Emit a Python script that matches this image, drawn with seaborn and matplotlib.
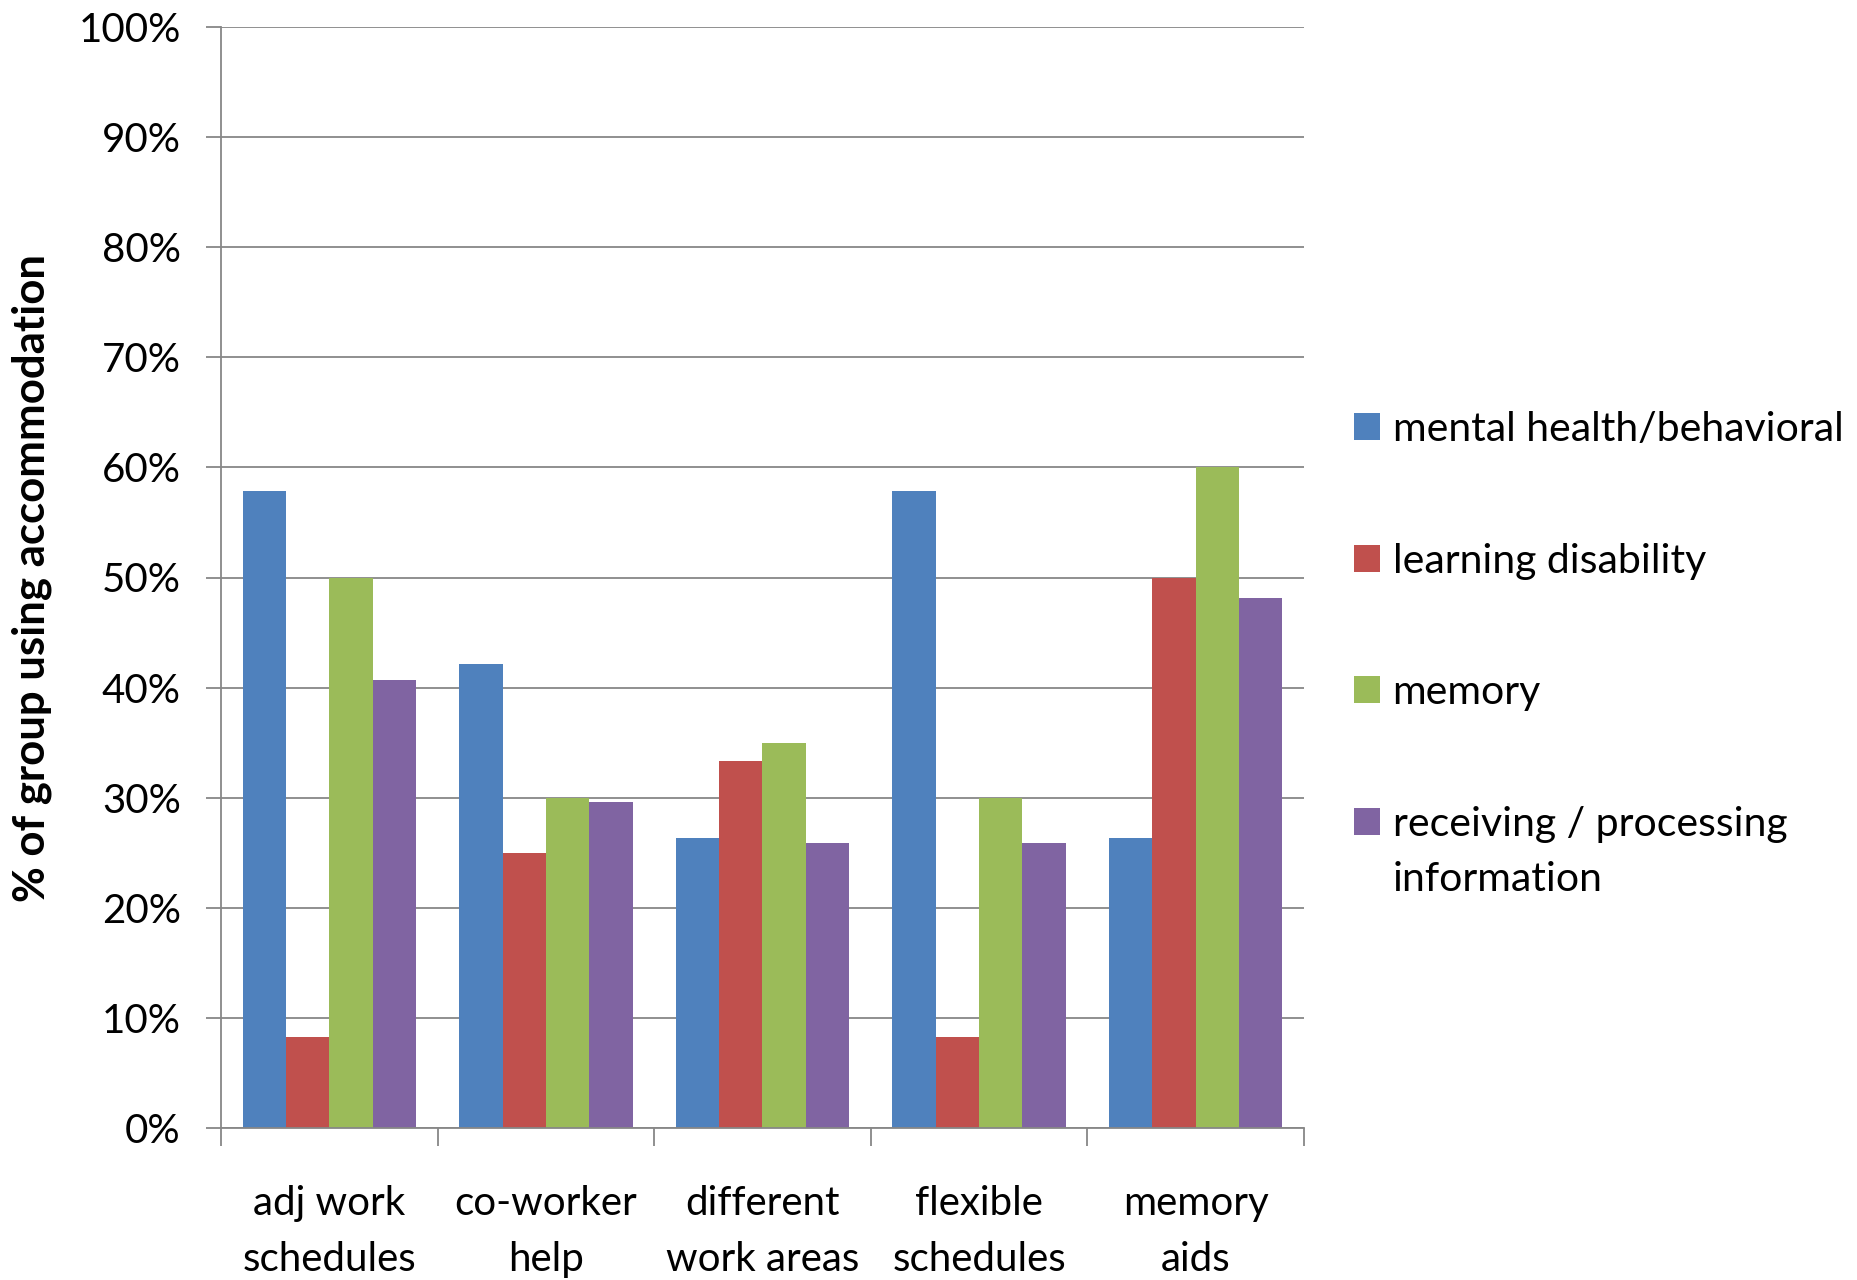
import matplotlib
matplotlib.use("Agg")
import matplotlib.pyplot as plt
import seaborn as sns
import pandas as pd

# ---- data ----
categories = ["adj work\nschedules", "co-worker\nhelp", "different\nwork areas",
              "flexible\nschedules", "memory\naids"]
series_names = ["mental health/behavioral", "learning disability", "memory",
                "receiving / processing\ninformation"]
mental_health = [57.9, 42.1, 26.3, 57.9, 26.3]
learning_disability = [8.3, 25.0, 33.3, 8.3, 50.0]
memory = [50.0, 30.0, 35.0, 30.0, 60.0]
receiving_processing = [40.7, 29.6, 25.9, 25.9, 48.1]
y_ticks = [0, 10, 20, 30, 40, 50, 60, 70, 80, 90, 100]
y_tick_labels = [f"{v}%" for v in y_ticks]
colors = ["#4F81BD", "#C0504D", "#9BBB59", "#8064A2"]

all_values = [mental_health, learning_disability, memory, receiving_processing]
rows = []
for s, vals in zip(series_names, all_values):
    for c, v in zip(categories, vals):
        rows.append({"category": c, "series": s, "value": v})
df = pd.DataFrame(rows)

# ---- style ----
sns.set_theme(style="white")
plt.rcParams["font.family"] = ["Lato", "DejaVu Sans"]
FS = 29
LS = 1.62
GRID = "#878787"

fig = plt.figure(figsize=(18.57, 12.8), dpi=100)
ax = fig.add_axes([221 / 1857, 1 - 1128 / 1280, (1304 - 221) / 1857, (1128 - 27) / 1280])

sns.barplot(data=df, x="category", y="value", hue="series", order=categories,
            hue_order=series_names, palette=colors, saturation=1, width=0.8,
            linewidth=0, ax=ax, legend=True)

ax.set_ylim(0, 100)
ax.set_xlim(-0.5, len(categories) - 0.5)
ax.set_yticks(y_ticks)
ax.set_yticklabels(y_tick_labels, fontsize=FS, color="black")
ax.set_xticks(range(len(categories)))
ax.set_xticklabels(categories, fontsize=FS, color="black", linespacing=LS)
ax.set_xticks([i - 0.5 for i in range(len(categories) + 1)], minor=True)

ax.tick_params(axis="x", which="major", length=0, pad=41)
ax.tick_params(axis="x", which="minor", length=13, width=1.3, color=GRID, direction="out", bottom=True)
ax.tick_params(axis="y", which="major", length=11, width=1.3, color=GRID, direction="out", pad=18, left=True)

ax.yaxis.grid(True, color=GRID, linewidth=1.3)
ax.xaxis.grid(False)
ax.set_axisbelow(True)
for side in ["top", "right"]:
    ax.spines[side].set_visible(False)
for side in ["left", "bottom"]:
    ax.spines[side].set_color(GRID)
    ax.spines[side].set_linewidth(1.3)

ax.set_xlabel("")
ax.set_ylabel("% of group using accommodation", fontsize=31.5, fontweight="bold", color="black")
ax.yaxis.set_label_coords(-0.156, 0.5)

# ---- legend ----
handles, labels = ax.get_legend_handles_labels()
if ax.legend_ is not None:
    ax.legend_.remove()
leg = fig.legend(handles, labels, loc="upper left", bbox_to_anchor=(1354 / 1857, 0.679),
                 bbox_transform=fig.transFigure, frameon=False, fontsize=29.5,
                 handlelength=0.64, handleheight=0.64, handletextpad=0.3,
                 labelspacing=2.31, borderpad=0, borderaxespad=0)
for t in leg.get_texts():
    t.set_linespacing(LS)
    t.set_color("black")

# align the square of the two-line entry with its first line
fig.canvas.draw()
r = fig.canvas.get_renderer()
hs = leg.legend_handles
ts = leg.get_texts()
delta = hs[2].get_window_extent(r).y1 - ts[2].get_window_extent(r).y1
want_top = ts[3].get_window_extent(r).y1 + delta
diff_px = want_top - hs[3].get_window_extent(r).y1
hs[3].set_y(hs[3].get_y() + diff_px * 72.0 / fig.dpi)

fig.savefig("out.png", dpi=100)
